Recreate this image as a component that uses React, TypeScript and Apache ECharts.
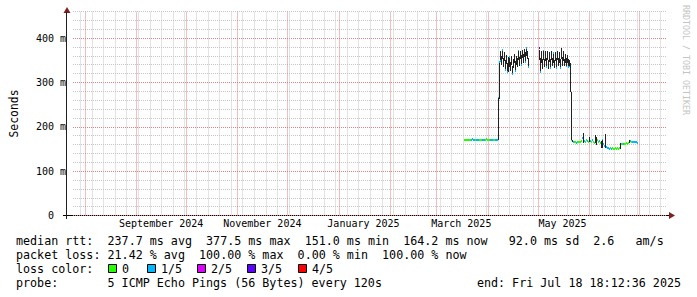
import React, { useEffect, useRef } from "react";
import * as echarts from "echarts";

// ---------- time frame ----------
const DAY = 86400000;
const X_MIN = Date.UTC(2024, 6, 24, 20, 0);
const X_MAX = Date.UTC(2025, 6, 18, 1, 0);
const SERIES_START = Date.UTC(2025, 2, 17, 11, 0);
const STEP_MS = 14.4 * 3600 * 1000;

// ---------- data (ms), one entry per consolidated step; null = no data ----------
const rttMedian: (number | null)[] = [
  // flat start (i0..33)
  171, 171, 171, 170, 171, 171, 171, 171, 172, 171, 171, 171, 171, 171, 171, 170, 171, 171, 171, 171,
  171, 171, 172, 171, 171, 171, 171, 171, 171, 171, 170, 171, 171, 171,
  // jump
  264,
  // high block 1 (i35..65)
  346, 348, 350, 374, 345, 358, 328, 352, 324, 348, 332, 358, 336, 350, 320, 342, 355, 326, 350, 345,
  372, 348, 362, 340, 366, 355, 368, 346, 378, 362, 334,
  // gap (i66..75)
  null, null, null, null, null, null, null, null, null, null,
  // high block 2 (i76..107)
  377, 323, 360, 342, 372, 344, 360, 334, 362, 340, 358, 332, 362, 346, 367, 342, 360, 333, 362, 348,
  358, 333, 366, 348, 360, 345, 355, 336, 352, 334, 336, 340,
  // drop
  170,
  // low block (i109..174)
  168, 166, 165, 165, 164, 165, 166, 165, 166, 168, 175, 170, 168, 166, 170, 167, 165, 172, 168, 166,
  170, 166, 164, 172, 168, 170, 165, 168, 164, 160, 170, 162, 156, 170, 155, 152, 152, 151, 152, 151,
  152, 151, 151, 152, 151, 152, 151, 152, 162, 162, 162, 161, 162, 162, 163, 162, 164, 167, 168, 166,
  166, 165, 166, 165, 165, 164,
];

const smokeLow: (number | null)[] = [
  null, null, null, null, null, null, null, null, null, null, null, null, null, null, null, null, null, null, null, null,
  null, null, null, null, null, null, null, null, null, null, null, null, null, null,
  171,
  262, 350, 340, 354, 335, 348, 330, 342, 326, 338, 324, 334, 326, 340, 322, 332, 345, 328, 340, 335,
  350, 338, 352, 342, 356, 345, 358, 348, 360, 352, 336,
  null, null, null, null, null, null, null, null, null, null,
  350, 325, 345, 330, 350, 334, 348, 336, 350, 330, 346, 334, 350, 336, 345, 332, 348, 335, 350, 338,
  345, 335, 352, 338, 348, 336, 345, 338, 344, 336, 338, 279,
  170,
  166, null, null, null, null, null, null, null, null, null, null, 164, null, null, null, null, null, 165, null, null,
  null, null, null, 163, 158, null, null, null, null, 152, 152, null, null, 153, null, null, null, null, null, null,
  null, null, null, null, null, null, null, null, 151, null, null, null, null, null, null, null, null, 163, null, null,
  null, null, null, null, null, null,
];

const smokeHigh: (number | null)[] = [
  null, null, null, null, null, null, null, null, null, null, null, null, null, null, null, null, null, null, null, null,
  null, null, null, null, null, null, null, null, null, null, null, null, null, null,
  264,
  344, 372, 360, 372, 355, 368, 350, 362, 345, 358, 340, 356, 346, 360, 338, 352, 364, 348, 360, 355,
  370, 358, 372, 362, 374, 365, 376, 368, 376, 372, 356,
  null, null, null, null, null, null, null, null, null, null,
  374, 355, 372, 352, 370, 352, 372, 355, 370, 350, 368, 354, 372, 356, 365, 350, 368, 355, 372, 356,
  368, 352, 378, 358, 370, 354, 365, 356, 362, 352, 350, 345,
  279,
  170, null, null, null, null, null, null, null, null, null, null, 186, null, null, null, null, null, 176, null, null,
  null, null, null, 182, 178, null, null, null, null, 168, 170, null, null, 184, null, null, null, null, null, null,
  null, null, null, null, null, null, null, null, 164, null, null, null, null, null, null, null, null, 170, null, null,
  null, null, null, null, null, null,
];

// lost pings (out of 5) per step
const lossCount: (number | null)[] = [
  0, 0, 0, 0, 0, 0, 0, 1, 1, 1, 1, 0, 1, 1, 1, 0, 0, 0, 1, 1,
  1, 0, 0, 0, 0, 0, 1, 1, 1, 0, 0, 1, 1, 1,
  1,
  1, 1, 1, 1, 1, 1, 1, 1, 1, 1, 0, 1, 1, 1, 1, 1, 1, 1, 1, 1,
  1, 1, 1, 1, 1, 1, 1, 1, 1, 1, 1,
  null, null, null, null, null, null, null, null, null, null,
  3, 1, 1, 1, 1, 1, 1, 1, 1, 1, 1, 1, 1, 1, 1, 0, 1, 1, 1, 1,
  1, 1, 1, 1, 1, 1, 1, 1, 1, 1, 1, 1,
  0,
  1, 1, 0, 0, 1, 0, 0, 0, 0, 0, 1, 0, 1, 0, 0, 1, 0, 0, 1, 0,
  1, 0, 0, 1, 1, 0, 0, 1, 0, 0, 1, 1, 1, 1, 1, 1, 1, 1, 0, 1,
  0, 0, 0, 0, 0, 0, 0, 0, 0, 0, 0, 1, 0, 0, 0, 0, 0, 0, 1, 0,
  1, 1, 1, 1, 1, 1,
];

const lossColors = ["#26ff00", "#00b8ff", "#dd00ff", "#5e00ff", "#ff0000"];
const lossLabels = ["0", "1/5", "2/5", "3/5", "4/5"];

// ---------- axis ticks / grid ----------
const yTickValues = [0, 100, 200, 300, 400];
const monthLabelStarts = ["2024-09-01", "2024-11-01", "2025-01-01", "2025-03-01", "2025-05-01"];
const monthLabelTexts = ["September 2024", "November 2024", "January 2025", "March 2025", "May 2025"];
const majorGridMonths = [
  "2024-08-01", "2024-09-01", "2024-10-01", "2024-11-01", "2024-12-01", "2025-01-01",
  "2025-02-01", "2025-03-01", "2025-04-01", "2025-05-01", "2025-06-01", "2025-07-01",
];
const firstWeekLine = "2024-07-29";

// ---------- legend texts ----------
const rttStats = ["237.7 ms avg", "377.5 ms max", "151.0 ms min", "164.2 ms now", "92.0 ms sd", "2.6", "am/s"];
const rttStatCols = [13, 27, 41, 55, 70, 82, 88];
const lossStats = ["21.42 % avg", "100.00 % max", "0.00 % min", "100.00 % now"];
const lossStatCols = [13, 26, 40, 52];
const probeText = "5 ICMP Echo Pings (56 Bytes) every 120s";
const endText = "end: Fri Jul 18 18:12:36 2025";
const legendBoxX = [108, 147, 197, 247, 298];

const MONO = '"DejaVu Sans Mono", "Liberation Mono", monospace';
const SMOKE = "#222222";
const MINOR = "#c6c6c6";
const MAJOR = "#e08080";

const utc = (d: string) => Date.parse(d + "T00:00:00Z");

export default function App() {
  const ref = useRef<HTMLDivElement>(null);

  useEffect(() => {
    if (!ref.current) return;
    const chart = echarts.init(ref.current, undefined, { renderer: "svg" });

    const data: any[] = [];
    rttMedian.forEach((m, i) => {
      if (m === null) return;
      const lo = smokeLow[i];
      const hi = smokeHigh[i];
      data.push([SERIES_START + i * STEP_MS, m, lo === null ? "-" : lo, hi === null ? "-" : hi, lossCount[i] ?? 0]);
    });

    const gridLines: any[] = [];
    for (let t = utc(firstWeekLine); t < X_MAX; t += 7 * DAY) gridLines.push([t, 0]);
    majorGridMonths.forEach((d) => gridLines.push([utc(d), 1]));

    const labelValues = monthLabelStarts.map((d) => utc(d) + 15 * DAY);

    const CW = 7.04;
    const LX = 16;
    const txt = (x: number, y: number, text: string, extra: any = {}) => ({
      type: "text",
      x,
      y,
      silent: true,
      style: { text, font: `11.7px ${MONO}`, fill: "#000", verticalAlign: "middle", ...extra },
    });

    const graphics: any[] = [];
    graphics.push(txt(LX, 241, "median rtt:"));
    rttStats.forEach((s, k) => graphics.push(txt(LX + rttStatCols[k] * CW, 241, s)));
    graphics.push(txt(LX, 255, "packet loss:"));
    lossStats.forEach((s, k) => graphics.push(txt(LX + lossStatCols[k] * CW, 255, s)));
    graphics.push(txt(LX, 269, "loss color:"));
    lossColors.forEach((c, k) => {
      const bx = legendBoxX[k];
      graphics.push({
        type: "rect",
        silent: true,
        shape: { x: bx + 0.5, y: 264.5, width: 8, height: 8 },
        style: { fill: c, stroke: "#000", lineWidth: 1 },
      });
      graphics.push(txt(bx + 14, 269, lossLabels[k]));
    });
    graphics.push(txt(LX, 283, "probe:"));
    graphics.push(txt(LX + 13 * CW, 283, probeText));
    graphics.push(txt(681, 283, endText, { align: "right" }));
    // watermark
    graphics.push({
      type: "text",
      x: 686,
      y: 60,
      rotation: -Math.PI / 2,
      silent: true,
      style: {
        text: "RRDTOOL / TOBI OETIKER",
        font: `8.3px ${MONO}`,
        fill: "#c4c4c4",
        align: "center",
        verticalAlign: "middle",
      },
    });
    // arrows
    graphics.push({
      type: "polygon",
      silent: true,
      shape: { points: [[67, 7], [63.5, 13], [70.5, 13]] },
      style: { fill: "#801f1f" },
    });
    graphics.push({
      type: "polygon",
      silent: true,
      shape: { points: [[675, 215.5], [669, 212], [669, 219]] },
      style: { fill: "#801f1f" },
    });
    // axis lines
    graphics.push({
      type: "line",
      silent: true,
      shape: { x1: 63, y1: 215.5, x2: 669, y2: 215.5 },
      style: { stroke: "#000", lineWidth: 1 },
    });
    graphics.push({
      type: "line",
      silent: true,
      shape: { x1: 66.5, y1: 219, x2: 66.5, y2: 12 },
      style: { stroke: "#1f1f1f", lineWidth: 1 },
    });

    chart.setOption({
      animation: false,
      backgroundColor: "#ffffff",
      grid: { left: 66.5, top: 11.5, width: 600.5, height: 204, containLabel: false },
      xAxis: {
        type: "value",
        min: X_MIN,
        max: X_MAX,
        axisLine: { show: false },
        axisTick: { show: false },
        splitLine: { show: false },
        axisLabel: {
          customValues: labelValues,
          margin: 3,
          fontFamily: MONO,
          fontSize: 10,
          color: "#000",
          formatter: (v: number) => {
            const k = labelValues.findIndex((x) => Math.abs(x - v) < DAY);
            return k >= 0 ? monthLabelTexts[k] : "";
          },
        },
      },
      yAxis: [
        {
          type: "value",
          min: 0,
          max: 460,
          interval: 100,
          axisLine: { show: false },
          axisTick: { show: false },
          axisLabel: {
            margin: 7,
            fontFamily: MONO,
            fontSize: 10,
            color: "#000",
            formatter: (v: number) =>
              yTickValues.includes(v) ? (v === 0 ? "0\u00a0\u00a0" : `${v} m`) : "",
          },
          splitLine: {
            show: true,
            lineStyle: { color: [MAJOR, MAJOR, MAJOR, MAJOR, MAJOR, "rgba(0,0,0,0)"], type: [1, 1], width: 1 },
          },
          name: "Seconds",
          nameLocation: "middle",
          nameRotate: 90,
          nameGap: 54,
          nameTextStyle: { fontFamily: MONO, fontSize: 11.4, color: "#000" },
        },
        {
          type: "value",
          min: 0,
          max: 460,
          interval: 20,
          position: "left",
          axisLine: { show: false },
          axisTick: { show: false },
          axisLabel: { show: false },
          splitLine: {
            show: true,
            lineStyle: { color: ["rgba(0,0,0,0)", MINOR, MINOR, MINOR, MINOR], type: [1, 1], width: 1 },
          },
        },
      ],
      series: [
        {
          type: "custom",
          z: 1,
          silent: true,
          clip: true,
          data: gridLines,
          renderItem: (_p: any, api: any) => {
            const t = api.value(0);
            const major = api.value(1) === 1;
            const top = api.coord([t, 460]);
            const bot = api.coord([t, 0]);
            const x = Math.round(top[0]) + 0.5;
            return {
              type: "line",
              shape: { x1: x, y1: top[1], x2: x, y2: bot[1] },
              style: { stroke: major ? MAJOR : MINOR, lineWidth: 1, lineDash: [1, 1] },
            };
          },
        },
        {
          type: "custom",
          z: 3,
          silent: true,
          clip: true,
          data,
          renderItem: (_p: any, api: any) => {
            const t = api.value(0);
            const med = api.value(1);
            const lo = api.value(2);
            const hi = api.value(3);
            const loss = api.value(4);
            const x0 = Math.round(api.coord([t, 0])[0]);
            const x1 = Math.round(api.coord([t + STEP_MS, 0])[0]);
            const w = Math.max(1, x1 - x0);
            const children: any[] = [];
            const yM = Math.round(api.coord([t, med])[1]);
            children.push({
              type: "rect",
              shape: { x: x0, y: yM - 1, width: w, height: 2 },
              style: { fill: lossColors[loss] || lossColors[0] },
            });
            if (!isNaN(lo) && !isNaN(hi)) {
              const yHi = Math.round(api.coord([t, hi])[1]);
              const yLo = Math.round(api.coord([t, lo])[1]);
              children.push({
                type: "rect",
                shape: { x: x0, y: yHi, width: 1, height: Math.max(1, yLo - yHi) },
                style: { fill: SMOKE },
              });
            }
            return { type: "group", children };
          },
        },
      ],
      graphic: graphics,
    });

    return () => chart.dispose();
  }, []);

  return (
    <div
      ref={ref}
      style={{ position: "fixed", left: 0, top: 0, width: 697, height: 297, background: "#fff" }}
    />
  );
}
